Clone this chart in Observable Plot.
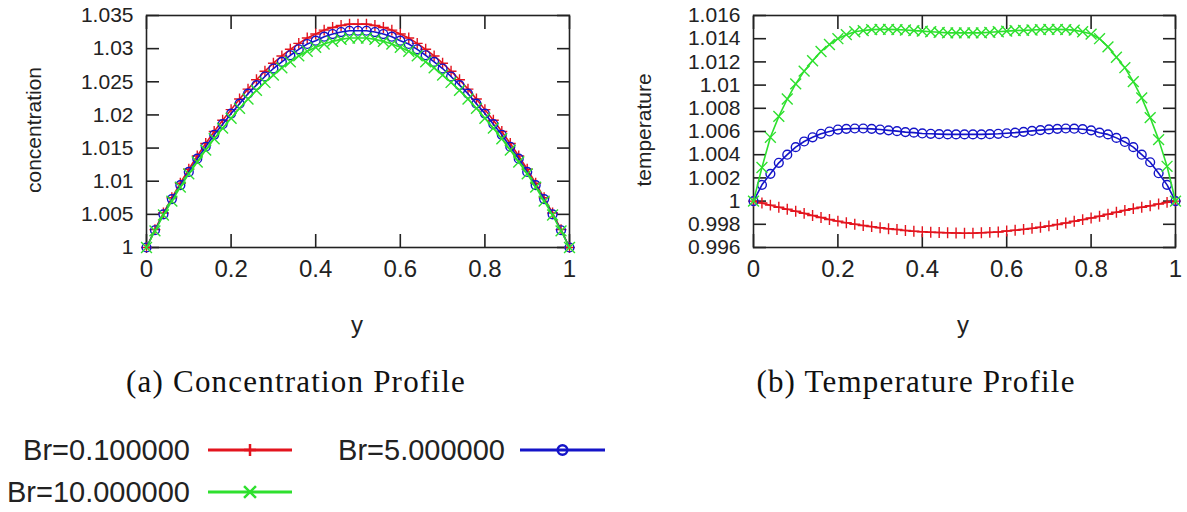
<!DOCTYPE html>
<html><head><meta charset="utf-8">
<script src="https://cdn.jsdelivr.net/npm/d3@7"></script>
<script src="https://cdn.jsdelivr.net/npm/@observablehq/plot@0.6"></script>
<style>
body{margin:0;background:#fff;}
#root{position:relative;width:1187px;height:512px;overflow:hidden;font-family:"Liberation Sans",Arial,sans-serif;color:#222;background:#fff;}
.abs{position:absolute;white-space:nowrap;line-height:1;}
.panel{position:absolute;top:0;}
</style></head><body><div id="root"></div>
<script>
// ---- data ----
const yGrid = [0,0.02,0.04,0.06,0.08,0.1,0.12,0.14,0.16,0.18,0.2,0.22,0.24,0.26,0.28,0.3,0.32,0.34,0.36,0.38,0.4,0.42,0.44,0.46,0.48,0.5,0.52,0.54,0.56,0.58,0.6,0.62,0.64,0.66,0.68,0.7,0.72,0.74,0.76,0.78,0.8,0.82,0.84,0.86,0.88,0.9,0.92,0.94,0.96,0.98,1];

const concRed = [1.0000,1.0027,1.0052,1.0075,1.0097,1.0118,1.0138,1.0157,1.0175,1.0192,1.0208,1.0224,1.0239,1.0253,1.0266,1.0278,1.0289,1.0299,1.0308,1.0316,1.0322,1.0328,1.0332,1.0335,1.0337,1.0337,
  1.0337,1.0335,1.0332,1.0328,1.0322,1.0316,1.0308,1.0299,1.0289,1.0278,1.0266,1.0253,1.0239,1.0224,1.0208,1.0192,1.0175,1.0157,1.0138,1.0118,1.0097,1.0075,1.0052,1.0027,1.0000];
const concBlue = [1.0000,1.0026,1.0050,1.0073,1.0094,1.0114,1.0134,1.0152,1.0170,1.0186,1.0202,1.0217,1.0232,1.0245,1.0258,1.0270,1.0280,1.0290,1.0299,1.0307,1.0312,1.0318,1.0322,1.0325,1.0327,1.0327,
  1.0327,1.0325,1.0322,1.0318,1.0312,1.0307,1.0299,1.0290,1.0280,1.0270,1.0258,1.0245,1.0232,1.0217,1.0202,1.0186,1.0170,1.0152,1.0134,1.0114,1.0094,1.0073,1.0050,1.0026,1.0000];
const concGreen = [1.0000,1.0025,1.0049,1.0070,1.0091,1.0111,1.0129,1.0147,1.0164,1.0180,1.0195,1.0210,1.0224,1.0237,1.0249,1.0260,1.0271,1.0280,1.0289,1.0296,1.0302,1.0307,1.0311,1.0314,1.0316,1.0316,
  1.0316,1.0314,1.0311,1.0307,1.0302,1.0296,1.0289,1.0280,1.0271,1.0260,1.0249,1.0237,1.0224,1.0210,1.0195,1.0180,1.0164,1.0147,1.0129,1.0111,1.0091,1.0070,1.0049,1.0025,1.0000];

const tempRed = [1.00000,0.99983,0.99965,0.99947,0.99930,0.99913,0.99894,0.99876,0.99858,0.99841,0.99827,0.99813,0.99801,0.99790,0.99780,0.99770,0.99762,0.99755,0.99747,0.99740,0.99736,0.99732,0.99729,0.99727,0.99725,0.99723,
  0.99724,0.99727,0.99730,0.99734,0.99742,0.99749,0.99756,0.99765,0.99775,0.99786,0.99798,0.99811,0.99826,0.99840,0.99854,0.99870,0.99887,0.99904,0.99920,0.99935,0.99947,0.99960,0.99975,0.99989,1.00000];
const tempBlue = [1.0000,1.0014,1.00235,1.0033,1.0040,1.00465,1.00514,1.0055,1.0058,1.0060,1.00617,1.00623,1.00626,1.00626,1.00623,1.00617,1.0061,1.00603,1.00595,1.0059,1.00583,1.0058,1.00577,1.00575,1.00575,1.00575,
  1.00575,1.00575,1.00577,1.0058,1.00585,1.0059,1.00597,1.00605,1.00612,1.00618,1.00623,1.00626,1.00624,1.0062,1.0061,1.0059,1.00575,1.00545,1.0051,1.00465,1.0040,1.00335,1.0024,1.0014,1.0000];
const tempGreen = [1.0000,1.0029,1.0055,1.0073,1.0088,1.0101,1.0112,1.0121,1.0129,1.0135,1.0140,1.01435,1.0146,1.0147,1.01478,1.0148,1.0148,1.01478,1.01475,1.0147,1.01465,1.0146,1.01455,1.0145,1.0145,1.0145,
  1.0145,1.0145,1.01455,1.0146,1.01465,1.0147,1.01472,1.01475,1.01478,1.0148,1.0148,1.01478,1.01474,1.0146,1.0144,1.0140,1.0133,1.0124,1.0115,1.0103,1.0089,1.0072,1.0053,1.0030,1.0000];

const seriesNames = ["Br=0.100000","Br=5.000000","Br=10.000000"];
const seriesColors = ["#e3141e","#1414c8","#2ee02e"];
const seriesSymbols = ["plus","circle","times"];
const seriesR = [3.6,4.4,5];

const xTicks = [0,0.2,0.4,0.6,0.8,1];
const concTicks = [1,1.005,1.01,1.015,1.02,1.025,1.03,1.035];
const tempTicks = [0.996,0.998,1,1.002,1.004,1.006,1.008,1.01,1.012,1.014,1.016];

const panelA = {title:"concentration", caption:"(a) Concentration Profile", values:[concRed,concBlue,concGreen], domain:[1,1.035], ticks:concTicks};
const panelB = {title:"temperature", caption:"(b) Temperature Profile", values:[tempRed,tempBlue,tempGreen], domain:[0.996,1.016], ticks:tempTicks};

// ---- drawing ----
const root = document.getElementById("root");
const fmt = d => String(+d.toFixed(3));
const ink = "#222";

function makePanel(p, width, ml, mr) {
  const marks = [
    Plot.axisY(p.ticks, {anchor:"left", tickSize:0, tickPadding:13, tickFormat:fmt, fontSize:21, label:null, fill:ink}),
    Plot.axisY(p.ticks, {anchor:"left", tickSize:-13, fill:"none", label:null, stroke:ink, strokeWidth:1.6}),
    Plot.axisY(p.ticks, {anchor:"right", tickSize:-13, fill:"none", label:null, stroke:ink, strokeWidth:1.6}),
    Plot.axisX(xTicks, {anchor:"bottom", tickSize:0, tickPadding:12, tickFormat:fmt, fontSize:24, label:null, fill:ink}),
    Plot.axisX(xTicks, {anchor:"bottom", tickSize:-13, fill:"none", label:null, stroke:ink, strokeWidth:1.6}),
    Plot.axisX(xTicks, {anchor:"top", tickSize:-13, fill:"none", label:null, stroke:ink, strokeWidth:1.6}),
    Plot.frame({stroke:ink, strokeWidth:1.6})
  ];
  p.values.forEach((vals, k) => {
    const rows = vals.map((v, i) => ({y: yGrid[i], v}));
    marks.push(Plot.line(rows, {x:"y", y:"v", stroke:seriesColors[k], strokeWidth:1.6}));
    marks.push(Plot.dot(rows, {x:"y", y:"v", symbol:seriesSymbols[k], r:seriesR[k], stroke:seriesColors[k], fill:"none", strokeWidth:1.4}));
  });
  return Plot.plot({
    width, height:350, marginLeft:ml, marginRight:mr, marginTop:15, marginBottom:103,
    x:{domain:[0,1]}, y:{domain:p.domain},
    style:{fontFamily:'"Liberation Sans",Arial,sans-serif', color:ink, background:"transparent", overflow:"visible"},
    marks
  });
}

function addText(txt, x, y, css) {
  const d = document.createElement("div");
  d.className = "abs";
  d.textContent = txt;
  d.style.left = x + "px"; d.style.top = y + "px";
  Object.assign(d.style, css);
  root.appendChild(d);
  return d;
}

const a = makePanel(panelA, 600, 146, 31);
const wa = document.createElement("div"); wa.className = "panel"; wa.style.left = "0px"; wa.appendChild(a); root.appendChild(wa);
const b = makePanel(panelB, 587, 153, 12);
const wb = document.createElement("div"); wb.className = "panel"; wb.style.left = "600px"; wb.appendChild(b); root.appendChild(wb);

// axis titles
addText(panelA.title, 33, 130, {fontSize:"21px", transform:"translate(-50%,-50%) rotate(-90deg)"});
addText(panelB.title, 643, 130, {fontSize:"21px", transform:"translate(-50%,-50%) rotate(-90deg)"});
addText("y", 357, 325, {fontSize:"24px", transform:"translate(-50%,-50%)"});
addText("y", 963, 325, {fontSize:"24px", transform:"translate(-50%,-50%)"});
// captions
const capCss = {fontFamily:'"Liberation Serif","Times New Roman",serif', fontSize:"31px", letterSpacing:"1.2px", transform:"translate(-50%,-50%)", color:"#111"};
addText(panelA.caption, 296, 381, capCss);
addText(panelB.caption, 916, 381, capCss);

// legend
const leg = d3.select(root).append("svg").attr("width",1187).attr("height",512)
  .style("position","absolute").style("left","0px").style("top","0px").style("pointer-events","none");
const legPos = [{tx:190, lx1:208, lx2:292, y:450},{tx:505, lx1:520, lx2:605, y:450},{tx:190, lx1:208, lx2:292, y:492}];
const symMap = {plus:d3.symbolPlus, circle:d3.symbolCircle, times:d3.symbolTimes};
seriesNames.forEach((name, k) => {
  const p = legPos[k];
  leg.append("text").attr("x", p.tx).attr("y", p.y).attr("dy","0.36em").attr("text-anchor","end")
    .attr("font-family",'"Liberation Sans",Arial,sans-serif').attr("font-size",29).attr("fill",ink).text(name);
  leg.append("line").attr("x1",p.lx1).attr("x2",p.lx2).attr("y1",p.y).attr("y2",p.y)
    .attr("stroke",seriesColors[k]).attr("stroke-width",3);
  leg.append("path").attr("transform",`translate(${(p.lx1+p.lx2)/2},${p.y})`)
    .attr("d", d3.symbol(symMap[seriesSymbols[k]], Math.PI*seriesR[k]*seriesR[k]*1.2)())
    .attr("fill","none").attr("stroke",seriesColors[k]).attr("stroke-width",2.5);
});
</script></body></html>
